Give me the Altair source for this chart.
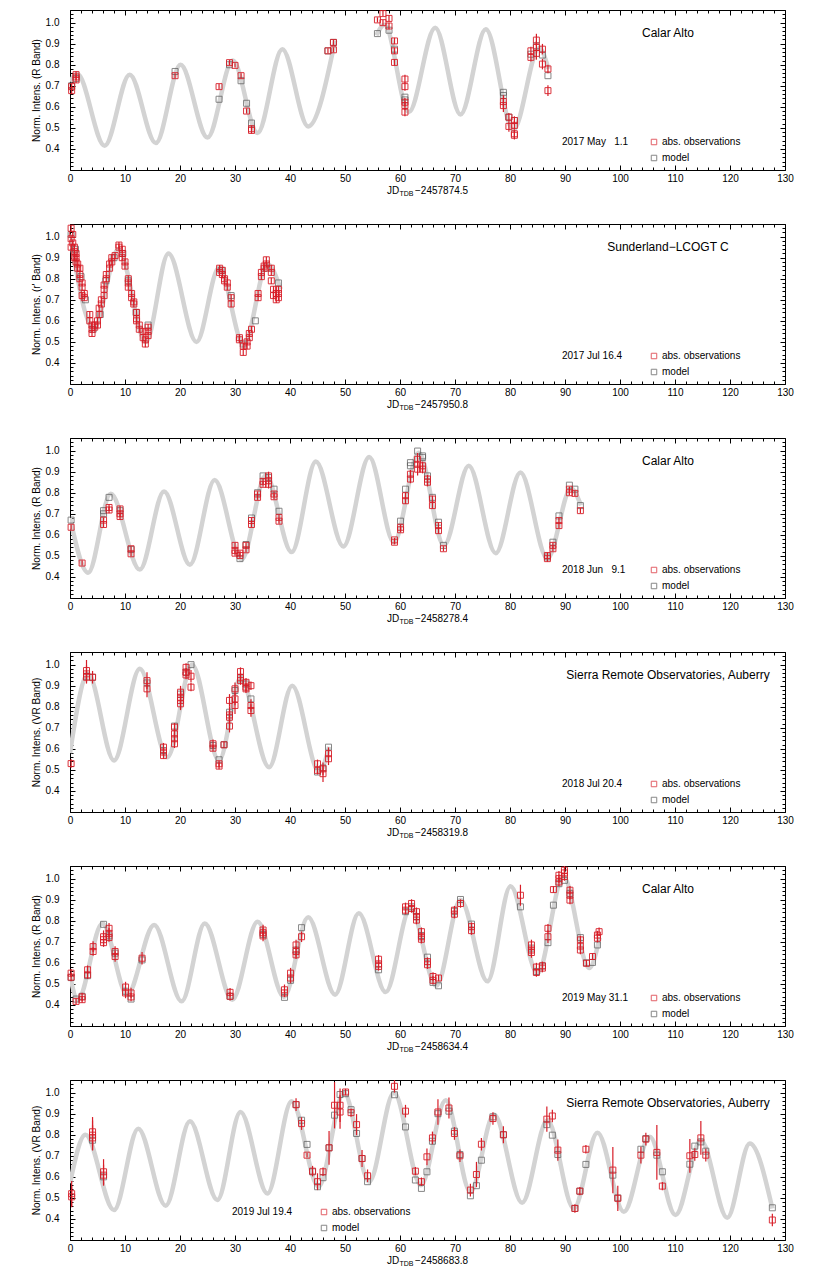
import altair as alt
import pandas as pd

FONT = "Liberation Sans"
RED = "#d81e28"
GRAY = "#555555"
CURVE_COLOR = "#d3d3d3"
W, H = 715, 160

# ---------------- panel meta ----------------
SITES = ["Calar Alto", "Sunderland\u2212LCOGT C", "Calar Alto",
         "Sierra Remote Observatories, Auberry", "Calar Alto",
         "Sierra Remote Observatories, Auberry"]
YTITLES = ["Norm. Intens. (R Band)", "Norm. Intens. (r' Band)", "Norm. Intens. (R Band)",
           "Norm. Intens. (VR Band)", "Norm. Intens. (R Band)", "Norm. Intens. (VR Band)"]
EPOCHS = ["2017 May \u20071.1", "2017 Jul 16.4", "2018 Jun \u20079.1",
          "2018 Jul 20.4", "2019 May 31.1", "2019 Jul 19.4"]
JD_OFFSETS = ["2457874.5", "2457950.8", "2458278.4", "2458319.8", "2458634.4", "2458683.8"]
LEGEND_LEFT = [False, False, False, False, False, True]

X_TICKS = list(range(0, 131, 2))
Y_TICKS = [round(0.30 + 0.02 * i, 2) for i in range(39)]

# ---------------- panel 1 (model curve has a gap between ~48 and ~56) ----------------
P1_CURVE_X = [0, 1.3, 6.3, 10.85, 15.6, 20.1, 25.0, 29.6, 34.1, 38.6, 43.3, 48.2,
              55.7, 57.2, 61.6, 66.4, 71.0, 75.6, 80.6, 85.3, 87.0]
P1_CURVE_Y = [0.72, 0.757, 0.415, 0.753, 0.428, 0.80, 0.454, 0.82, 0.476, 0.874, 0.507, 0.915,
              0.94, 0.99, 0.575, 0.976, 0.564, 0.969, 0.49, 0.88, 0.78]
P1_CURVE_SEG = [0] * 12 + [1] * 9
P1_OBS = [(0.3, 0.696, 0.015), (0.3, 0.677, 0.015), (1.1, 0.753, 0.015), (1.1, 0.728, 0.015),
          (1.1, 0.742, 0.015), (19.1, 0.748, 0.012), (27.1, 0.696, 0.012), (29.0, 0.81, 0.012),
          (30.0, 0.797, 0.01), (31.1, 0.748, 0.012), (32.1, 0.58, 0.012), (33.0, 0.496, 0.015),
          (33.0, 0.488, 0.015), (46.9, 0.866, 0.012), (47.9, 0.906, 0.012), (47.9, 0.871, 0.012),
          (55.9, 1.013, 0.012), (56.9, 1.043, 0.012), (56.9, 1.0, 0.012), (58.0, 1.02, 0.015),
          (58.0, 0.984, 0.015), (59.0, 0.913, 0.015), (59.0, 0.866, 0.015), (59.0, 0.811, 0.015),
          (60.9, 0.732, 0.02), (60.9, 0.696, 0.02), (60.9, 0.622, 0.02), (60.9, 0.606, 0.02),
          (60.9, 0.575, 0.02), (78.8, 0.625, 0.03), (78.8, 0.606, 0.03), (79.8, 0.551, 0.02),
          (79.8, 0.507, 0.025), (80.8, 0.535, 0.02), (80.8, 0.512, 0.02), (80.8, 0.472, 0.02),
          (80.8, 0.465, 0.02), (83.8, 0.866, 0.02), (83.8, 0.835, 0.02), (84.8, 0.917, 0.03),
          (84.8, 0.882, 0.03), (84.8, 0.854, 0.03), (85.9, 0.874, 0.025), (85.9, 0.803, 0.025),
          (86.9, 0.78, 0.02), (86.9, 0.677, 0.025)]
P1_MODEL = [(0.3, 0.70), (1.1, 0.735), (19.1, 0.768), (27.1, 0.636), (29.0, 0.80), (31.1, 0.724),
            (32.1, 0.617), (33.0, 0.523), (46.9, 0.866), (47.9, 0.906), (55.9, 0.948),
            (58.0, 0.964), (59.0, 0.874), (60.9, 0.646), (60.9, 0.633), (78.8, 0.669),
            (78.8, 0.654), (79.8, 0.551), (80.8, 0.535), (83.8, 0.85), (84.8, 0.89),
            (85.9, 0.846), (86.9, 0.748)]

# ---------------- panel 2 ----------------
P2_CURVE_X = [0, 4.3, 8.8, 13.8, 17.9, 23.0, 27.1, 31.6, 35.9, 38.3]
P2_CURVE_Y = [1.01, 0.565, 0.94, 0.50, 0.92, 0.50, 0.852, 0.485, 0.87, 0.75]
P2_OBS = [(x, y, 0.015) for x, y in [
    (0.2, 1.04), (0.2, 0.99), (0.2, 0.95), (0.5, 1.01), (0.5, 0.97), (0.8, 0.95), (0.8, 0.93),
    (0.8, 0.90), (1.1, 0.92), (1.1, 0.90), (1.1, 0.88), (1.4, 0.87), (1.4, 0.85), (1.8, 0.85),
    (1.8, 0.82), (1.8, 0.80), (2.2, 0.78), (2.2, 0.76), (2.2, 0.72), (2.6, 0.73), (2.6, 0.71),
    (3.6, 0.63), (3.6, 0.60), (4.0, 0.58), (4.0, 0.56), (4.0, 0.54), (4.5, 0.58), (4.5, 0.57),
    (5.0, 0.60), (5.0, 0.58), (5.3, 0.63), (5.3, 0.66), (5.7, 0.68), (5.7, 0.70), (6.2, 0.72),
    (6.2, 0.75), (6.2, 0.77), (6.6, 0.80), (6.6, 0.82), (7.2, 0.85), (7.2, 0.87), (7.6, 0.90),
    (7.6, 0.88), (8.2, 0.91), (8.9, 0.95), (8.9, 0.96), (9.5, 0.94), (9.5, 0.92), (9.5, 0.90),
    (10.0, 0.88), (10.0, 0.86), (10.6, 0.80), (10.6, 0.78), (10.6, 0.76), (11.2, 0.73),
    (11.2, 0.71), (11.6, 0.69), (11.6, 0.68), (12.1, 0.64), (12.1, 0.61), (12.1, 0.60),
    (12.6, 0.58), (12.6, 0.56), (13.3, 0.55), (13.3, 0.52), (13.7, 0.51), (13.7, 0.49),
    (14.2, 0.55), (14.2, 0.53), (14.2, 0.57), (27.2, 0.85), (27.2, 0.83), (27.7, 0.84),
    (27.7, 0.82), (28.1, 0.80), (28.1, 0.79), (28.6, 0.78), (28.6, 0.76), (29.3, 0.71),
    (29.3, 0.68), (30.8, 0.52), (30.8, 0.51), (31.5, 0.48), (31.5, 0.45), (32.2, 0.50),
    (32.2, 0.48), (32.6, 0.52), (32.6, 0.54), (33.0, 0.56), (34.2, 0.73), (34.2, 0.71),
    (34.8, 0.81), (34.8, 0.83), (35.3, 0.86), (35.3, 0.85), (35.7, 0.89), (35.7, 0.87),
    (36.6, 0.85), (36.6, 0.83), (36.6, 0.79), (37.0, 0.75), (37.0, 0.72), (37.5, 0.73),
    (37.5, 0.70), (37.9, 0.75), (37.9, 0.73), (37.9, 0.71)]]
P2_MODEL = [(0.2, 1.01), (1.0, 0.94), (2.0, 0.81), (2.8, 0.70), (4.2, 0.56), (5.5, 0.63),
            (6.5, 0.79), (8.0, 0.90), (9.6, 0.92), (10.6, 0.79), (12.0, 0.64), (14.2, 0.58),
            (27.5, 0.84), (29.3, 0.72), (31.5, 0.49), (33.7, 0.60), (35.7, 0.85), (37.9, 0.78)]

# ---------------- panel 3 ----------------
P3_CURVE_X = [0, 3.3, 7.4, 12.7, 17.1, 21.8, 26.3, 31.2, 35.6, 40.3, 44.7, 49.7, 54.4, 58.9,
              63.4, 68.0, 72.5, 77.4, 81.9, 86.8, 91.1, 92.9]
P3_CURVE_Y = [0.68, 0.42, 0.795, 0.435, 0.806, 0.458, 0.86, 0.482, 0.883, 0.518, 0.948, 0.545,
              0.97, 0.565, 0.99, 0.55, 0.928, 0.513, 0.896, 0.487, 0.82, 0.74]
P3_OBS = [(0.2, 0.636, 0.012), (2.2, 0.466, 0.012), (6.1, 0.67, 0.012), (6.1, 0.649, 0.012),
          (7.1, 0.73, 0.015), (7.1, 0.718, 0.015), (9.1, 0.723, 0.015), (9.1, 0.70, 0.015),
          (9.1, 0.687, 0.015), (11.1, 0.534, 0.012), (11.1, 0.51, 0.012), (30.0, 0.55, 0.012),
          (30.0, 0.526, 0.012), (30.0, 0.513, 0.012), (30.9, 0.513, 0.012), (30.9, 0.502, 0.012),
          (32.0, 0.55, 0.012), (32.0, 0.529, 0.012), (33.0, 0.668, 0.012), (33.0, 0.649, 0.012),
          (34.1, 0.794, 0.012), (34.1, 0.778, 0.012), (35.1, 0.854, 0.012), (35.1, 0.84, 0.012),
          (36.1, 0.88, 0.02), (36.1, 0.857, 0.02), (36.1, 0.84, 0.02), (37.1, 0.794, 0.012),
          (37.1, 0.781, 0.012), (38.0, 0.683, 0.012), (38.0, 0.665, 0.012), (59.0, 0.576, 0.01),
          (59.0, 0.565, 0.01), (60.1, 0.636, 0.012), (60.1, 0.624, 0.012), (61.0, 0.786, 0.015),
          (61.0, 0.762, 0.015), (61.9, 0.888, 0.02), (61.9, 0.865, 0.02), (63.2, 0.935, 0.03),
          (63.2, 0.959, 0.03), (63.2, 0.912, 0.03), (64.1, 0.928, 0.02), (64.1, 0.912, 0.02),
          (65.0, 0.865, 0.02), (65.0, 0.85, 0.02), (65.9, 0.77, 0.015), (65.9, 0.739, 0.015),
          (67.0, 0.644, 0.015), (67.0, 0.62, 0.015), (67.9, 0.534, 0.012), (86.8, 0.502, 0.015),
          (86.8, 0.487, 0.015), (87.8, 0.55, 0.012), (87.8, 0.534, 0.012), (88.9, 0.668, 0.012),
          (88.9, 0.644, 0.012), (90.8, 0.817, 0.012), (90.8, 0.80, 0.012), (91.8, 0.797, 0.012),
          (92.8, 0.715, 0.012)]
P3_MODEL = [(0.2, 0.67), (6.1, 0.715), (6.1, 0.70), (7.1, 0.778), (9.1, 0.715), (11.1, 0.53),
            (30.9, 0.487), (32.0, 0.554), (33.0, 0.68), (34.1, 0.80), (35.1, 0.88), (36.1, 0.872),
            (37.1, 0.817), (38.0, 0.712), (60.1, 0.665), (61.0, 0.817), (61.9, 0.928),
            (61.9, 0.943), (63.2, 0.998), (64.1, 0.967), (64.1, 0.975), (65.0, 0.88),
            (65.9, 0.778), (67.0, 0.66), (67.9, 0.55), (86.8, 0.495), (87.8, 0.565), (88.9, 0.69),
            (90.8, 0.836), (91.8, 0.817), (92.8, 0.739)]

# ---------------- panel 4 ----------------
P4_CURVE_X = [0, 3.3, 8.0, 12.7, 17.7, 22.2, 27.1, 31.0, 36.2, 40.4, 45.3, 47.1]
P4_CURVE_Y = [0.58, 0.955, 0.545, 0.98, 0.56, 1.0, 0.545, 0.935, 0.513, 0.90, 0.49, 0.61]
P4_OBS = [(0.2, 0.53, 0.02), (3.0, 0.972, 0.05), (3.0, 0.956, 0.04), (3.0, 0.94, 0.03),
          (4.1, 0.94, 0.03), (14.0, 0.924, 0.04), (14.0, 0.885, 0.04), (17.0, 0.608, 0.02),
          (17.0, 0.585, 0.02), (17.0, 0.568, 0.015), (19.0, 0.703, 0.02), (19.0, 0.671, 0.03),
          (19.0, 0.648, 0.03), (19.0, 0.624, 0.02), (20.1, 0.869, 0.03), (20.1, 0.845, 0.03),
          (20.1, 0.83, 0.04), (20.1, 0.814, 0.03), (21.1, 0.987, 0.02), (21.1, 0.964, 0.02),
          (21.1, 0.951, 0.02), (22.0, 0.945, 0.03), (22.0, 0.893, 0.02), (26.0, 0.624, 0.02),
          (26.0, 0.603, 0.015), (27.1, 0.529, 0.015), (27.1, 0.518, 0.015), (28.0, 0.619, 0.015),
          (29.0, 0.83, 0.03), (29.0, 0.761, 0.04), (29.0, 0.75, 0.03), (29.0, 0.708, 0.03),
          (30.0, 0.885, 0.03), (30.0, 0.837, 0.03), (30.0, 0.806, 0.04), (31.0, 0.967, 0.02),
          (31.0, 0.94, 0.02), (31.0, 0.924, 0.02), (32.0, 0.916, 0.02), (32.0, 0.893, 0.02),
          (32.0, 0.885, 0.02), (32.9, 0.90, 0.02), (32.9, 0.806, 0.03), (32.9, 0.782, 0.03),
          (45.0, 0.529, 0.02), (45.0, 0.498, 0.02), (46.0, 0.505, 0.03), (46.0, 0.482, 0.04),
          (47.0, 0.577, 0.03), (47.0, 0.553, 0.03)]
P4_MODEL = [(3.0, 0.945), (4.1, 0.94), (14.0, 0.913), (17.0, 0.592), (19.0, 0.708), (20.1, 0.86),
            (21.1, 0.964), (22.0, 1.0), (26.0, 0.616), (27.1, 0.548), (28.0, 0.62), (29.0, 0.774),
            (30.0, 0.877), (31.0, 0.932), (32.0, 0.908), (32.9, 0.837), (45.0, 0.49),
            (46.0, 0.509), (47.0, 0.608)]

# ---------------- panel 5 ----------------
P5_CURVE_X = [0, 1.4, 5.9, 10.4, 15.3, 20.3, 24.5, 29.5, 34.1, 38.9, 43.3, 48.2, 52.5, 57.4,
              61.9, 66.6, 71.0, 75.9, 80.1, 85.0, 89.7, 94.4, 96.3]
P5_CURVE_Y = [0.54, 0.425, 0.787, 0.449, 0.78, 0.417, 0.787, 0.425, 0.795, 0.438, 0.816, 0.449,
              0.835, 0.461, 0.86, 0.49, 0.90, 0.512, 0.964, 0.55, 1.01, 0.575, 0.72]
P5_OBS = [(0.2, 0.551, 0.02), (0.2, 0.532, 0.02), (1.1, 0.417, 0.015), (2.2, 0.438, 0.02),
          (2.2, 0.425, 0.015), (3.2, 0.567, 0.02), (3.2, 0.543, 0.02), (4.2, 0.677, 0.025),
          (4.2, 0.654, 0.02), (6.1, 0.724, 0.03), (6.1, 0.71, 0.03), (6.1, 0.696, 0.02),
          (7.1, 0.764, 0.025), (7.1, 0.74, 0.025), (7.1, 0.72, 0.02), (8.2, 0.654, 0.025),
          (8.2, 0.63, 0.025), (10.1, 0.485, 0.025), (10.1, 0.457, 0.025), (11.1, 0.457, 0.025),
          (11.1, 0.438, 0.02), (13.1, 0.622, 0.03), (29.1, 0.46, 0.02), (29.1, 0.441, 0.02),
          (35.1, 0.756, 0.025), (35.1, 0.743, 0.025), (35.1, 0.728, 0.025), (39.0, 0.472, 0.025),
          (39.0, 0.457, 0.02), (40.1, 0.551, 0.025), (40.1, 0.528, 0.025), (41.1, 0.685, 0.025),
          (41.1, 0.654, 0.025), (41.1, 0.638, 0.02), (42.1, 0.724, 0.025), (56.1, 0.617, 0.02),
          (56.1, 0.595, 0.02), (56.1, 0.583, 0.02), (61.0, 0.866, 0.02), (61.0, 0.85, 0.02),
          (62.1, 0.882, 0.02), (62.1, 0.858, 0.02), (63.0, 0.843, 0.02), (63.0, 0.819, 0.02),
          (63.0, 0.803, 0.02), (63.9, 0.748, 0.02), (63.9, 0.724, 0.02), (63.9, 0.712, 0.02),
          (65.0, 0.606, 0.02), (65.0, 0.591, 0.02), (66.0, 0.535, 0.02), (66.0, 0.517, 0.02),
          (67.0, 0.528, 0.015), (69.9, 0.85, 0.02), (69.9, 0.831, 0.02), (71.0, 0.882, 0.02),
          (73.0, 0.772, 0.02), (73.0, 0.753, 0.02), (81.9, 0.921, 0.05), (83.9, 0.685, 0.025),
          (83.9, 0.661, 0.025), (83.9, 0.649, 0.025), (84.8, 0.58, 0.02), (84.8, 0.554, 0.02),
          (85.9, 0.586, 0.02), (85.9, 0.575, 0.02), (86.9, 0.764, 0.02), (86.9, 0.724, 0.03),
          (87.9, 0.948, 0.015), (88.9, 1.016, 0.02), (88.9, 1.0, 0.02), (88.9, 0.984, 0.02),
          (89.9, 1.04, 0.02), (89.9, 1.027, 0.02), (89.9, 1.01, 0.02), (90.9, 0.945, 0.02),
          (90.9, 0.921, 0.02), (90.9, 0.898, 0.02), (92.8, 0.709, 0.02), (92.8, 0.68, 0.02),
          (92.8, 0.661, 0.02), (93.9, 0.598, 0.015), (95.0, 0.63, 0.015), (95.9, 0.732, 0.02),
          (95.9, 0.717, 0.02), (96.2, 0.748, 0.02)]
P5_MODEL = [(0.2, 0.53), (1.1, 0.428), (2.2, 0.441), (3.2, 0.539), (6.1, 0.783), (7.1, 0.728),
            (8.2, 0.646), (10.1, 0.465), (11.1, 0.428), (13.1, 0.614), (29.1, 0.441),
            (35.1, 0.735), (39.0, 0.436), (40.1, 0.517), (41.1, 0.661), (42.1, 0.767),
            (56.1, 0.567), (61.0, 0.843), (62.1, 0.866), (63.0, 0.82), (63.9, 0.73), (65.0, 0.627),
            (66.0, 0.507), (67.0, 0.491), (69.9, 0.845), (71.0, 0.901), (73.0, 0.784),
            (81.9, 0.866), (83.9, 0.67), (84.8, 0.559), (85.9, 0.585), (86.9, 0.696),
            (87.9, 0.874), (88.9, 0.976), (89.9, 0.992), (90.9, 0.93), (92.8, 0.72), (93.9, 0.6),
            (95.0, 0.602), (95.9, 0.685)]

# ---------------- panel 6 ----------------
P6_CURVE_X = [0, 2.8, 8.0, 12.4, 17.4, 21.8, 26.8, 31.0, 35.9, 40.3, 45.2, 49.8, 54.4, 58.9,
              63.8, 68.3, 72.8, 77.1, 82.2, 86.8, 91.6, 95.9, 100.7, 105.4, 110.1, 114.7, 119.5,
              123.6, 127.7]
P6_CURVE_Y = [0.57, 0.80, 0.442, 0.829, 0.463, 0.864, 0.49, 0.908, 0.521, 0.959, 0.553, 1.0,
              0.577, 1.0, 0.56, 0.964, 0.529, 0.896, 0.477, 0.869, 0.45, 0.81, 0.434, 0.79,
              0.419, 0.774, 0.406, 0.758, 0.45]
P6_OBS = [(0.3, 0.52, 0.06), (0.3, 0.505, 0.05), (4.1, 0.814, 0.07), (4.1, 0.798, 0.07),
          (4.1, 0.785, 0.06), (6.1, 0.624, 0.06), (6.1, 0.608, 0.05), (41.1, 0.943, 0.03),
          (42.1, 0.853, 0.03), (43.1, 0.703, 0.01), (44.1, 0.627, 0.025), (45.0, 0.577, 0.04),
          (46.0, 0.624, 0.02), (47.1, 0.738, 0.08), (48.1, 0.94, 0.11), (49.1, 0.94, 0.08),
          (49.1, 0.908, 0.08), (50.1, 1.003, 0.015), (51.1, 0.905, 0.02), (52.1, 0.848, 0.05),
          (53.1, 0.687, 0.04), (54.1, 0.605, 0.03), (59.0, 1.03, 0.03), (61.0, 0.912, 0.03),
          (62.8, 0.627, 0.02), (63.9, 0.577, 0.02), (64.9, 0.695, 0.04), (65.9, 0.785, 0.03),
          (66.9, 0.908, 0.06), (68.9, 0.927, 0.05), (69.9, 0.806, 0.03), (70.9, 0.70, 0.03),
          (72.8, 0.537, 0.03), (73.9, 0.611, 0.06), (74.8, 0.755, 0.03), (76.9, 0.877, 0.03),
          (78.8, 0.80, 0.04), (86.7, 0.874, 0.06), (87.7, 0.889, 0.03), (88.7, 0.727, 0.05),
          (91.8, 0.45, 0.02), (92.7, 0.532, 0.02), (93.8, 0.731, 0.02), (98.7, 0.632, 0.11),
          (99.6, 0.498, 0.06), (103.8, 0.703, 0.04), (104.7, 0.779, 0.03), (106.7, 0.716, 0.13),
          (107.7, 0.556, 0.02), (112.7, 0.70, 0.08), (113.6, 0.706, 0.03), (114.7, 0.785, 0.08),
          (115.6, 0.703, 0.03), (127.7, 0.395, 0.03)]
P6_MODEL = [(4.1, 0.774), (6.1, 0.60), (41.1, 0.943), (42.1, 0.869), (43.1, 0.754), (44.1, 0.624),
            (45.0, 0.553), (46.0, 0.596), (47.1, 0.738), (48.1, 0.893), (49.1, 0.991),
            (50.1, 0.995), (51.1, 0.919), (52.1, 0.806), (53.1, 0.687), (54.1, 0.577), (59.0, 0.99),
            (61.0, 0.837), (62.8, 0.585), (63.9, 0.545), (64.9, 0.624), (65.9, 0.769), (66.9, 0.90),
            (68.9, 0.912), (69.9, 0.817), (70.9, 0.706), (72.8, 0.51), (73.9, 0.558),
            (74.8, 0.679), (76.9, 0.885), (78.8, 0.80), (86.7, 0.848), (87.7, 0.798),
            (88.7, 0.706), (91.8, 0.45), (92.7, 0.532), (93.8, 0.659), (98.7, 0.608), (99.6, 0.5),
            (103.8, 0.731), (104.7, 0.782), (106.7, 0.703), (107.7, 0.624), (112.7, 0.66),
            (113.6, 0.746), (114.7, 0.766), (115.6, 0.722), (127.7, 0.453)]

PANELS = [
    (P1_OBS, P1_MODEL, P1_CURVE_X, P1_CURVE_Y, P1_CURVE_SEG),
    (P2_OBS, P2_MODEL, P2_CURVE_X, P2_CURVE_Y, None),
    (P3_OBS, P3_MODEL, P3_CURVE_X, P3_CURVE_Y, None),
    (P4_OBS, P4_MODEL, P4_CURVE_X, P4_CURVE_Y, None),
    (P5_OBS, P5_MODEL, P5_CURVE_X, P5_CURVE_Y, None),
    (P6_OBS, P6_MODEL, P6_CURVE_X, P6_CURVE_Y, None),
]

MAJOR_X = "datum.value % 10 === 0"
MAJOR_Y = "abs(datum.value * 10 - round(datum.value * 10)) < 0.001"
ONE = pd.DataFrame({"k": [0]})


def x_axis(orient, show_labels):
    kw = dict(orient=orient, values=X_TICKS, offset=-5, tickSize=5, domain=False, grid=False,
              tickColor="black", tickWidth=1,
              tickDash={"condition": {"test": MAJOR_X, "value": [5, 0]}, "value": [0, 2, 3, 5]},
              labels=show_labels, title=None)
    if show_labels:
        kw.update(format="d", labelExpr=f"{MAJOR_X} ? datum.label : ''", labelFont=FONT,
                  labelFontSize=10, labelColor="black", labelPadding=3, labelOverlap=False,
                  labelFlush=False)
    return alt.Axis(**kw)


def y_axis(orient, show_labels, title=None):
    kw = dict(orient=orient, values=Y_TICKS, offset=-5, tickSize=5, domain=False, grid=False,
              tickColor="black", tickWidth=1,
              tickDash={"condition": {"test": MAJOR_Y, "value": [5, 0]}, "value": [0, 2, 3, 5]},
              labels=show_labels, title=title)
    if show_labels:
        kw.update(format=".1f", labelExpr=f"({MAJOR_Y}) && datum.value > 0.35 ? datum.label : ''",
                  labelFont=FONT, labelFontSize=10, labelColor="black", labelPadding=11,
                  labelOverlap=False, labelFlush=False, titleFont=FONT, titleFontSize=10,
                  titleFontWeight="normal", titleColor="black", titlePadding=4)
    return alt.Axis(**kw)


def text(t, x, y, size=10, align="left"):
    return alt.Chart(ONE).mark_text(text=t, font=FONT, fontSize=size, align=align,
                                    baseline="middle", color="black").encode(
        x=alt.value(x), y=alt.value(y))


def legend_sym(color, x, y):
    return alt.Chart(ONE).mark_point(shape="square", filled=False, color=color, size=30,
                                     strokeWidth=1).encode(x=alt.value(x), y=alt.value(y))


def panel(i):
    obs, model, cx, cy, seg = PANELS[i]
    obs_df = pd.DataFrame(obs, columns=["x", "y", "e"])
    mod_df = pd.DataFrame(model, columns=["x", "y"])
    cur_df = pd.DataFrame({"x": cx, "y": cy, "seg": seg if seg else [0] * len(cx)})
    xs = alt.Scale(domain=[0, 130], nice=False, zero=False)
    ys = alt.Scale(domain=[0.3, 1.06], nice=False, zero=False)

    curve = alt.Chart(cur_df).mark_line(color=CURVE_COLOR, strokeWidth=4.5,
                                        interpolate="monotone", clip=True).encode(
        x=alt.X("x:Q", scale=xs, axis=x_axis("bottom", True)),
        y=alt.Y("y:Q", scale=ys, axis=y_axis("left", True, YTITLES[i])),
        detail="seg:N")
    mods = alt.Chart(mod_df).mark_point(shape="square", filled=False, color=GRAY, size=36,
                                        strokeWidth=1).encode(
        x=alt.X("x:Q", scale=xs, axis=x_axis("top", False)),
        y=alt.Y("y:Q", scale=ys, axis=y_axis("right", False)))
    errs = alt.Chart(obs_df).transform_calculate(
        lo="datum.y - datum.e", hi="datum.y + datum.e").mark_rule(
        color=RED, strokeWidth=1.2).encode(
        x=alt.X("x:Q", scale=xs, axis=None),
        y=alt.Y("lo:Q", scale=ys, axis=None), y2="hi:Q")
    pts = alt.Chart(obs_df).mark_point(shape="square", filled=False, color=RED, size=36,
                                       strokeWidth=1, opacity=0.9).encode(
        x=alt.X("x:Q", scale=xs, axis=None),
        y=alt.Y("y:Q", scale=ys, axis=None))

    if LEGEND_LEFT[i]:
        ex, lx = 162, 254
    else:
        ex, lx = 492, 584
    deco = [
        text(SITES[i], 598, 23, size=12, align="center"),
        text(EPOCHS[i], ex, 132),
        legend_sym(RED, lx, 132),
        text("abs. observations", lx + 8, 132),
        legend_sym(GRAY, lx, 148),
        text("model", lx + 8, 148),
        text("JD", 317, H + 21),
        text("TDB", 329.5, H + 23.5, size=7),
        text("\u2212" + JD_OFFSETS[i], 345, H + 21),
    ]
    return alt.layer(curve, mods, errs, pts, *deco).resolve_axis(
        x="independent", y="independent").properties(width=W, height=H)


chart = alt.vconcat(*[panel(i) for i in range(6)], spacing=54, bounds="flush").configure_view(
    stroke="black", strokeWidth=1).properties(
    padding={"left": 22, "top": -4, "right": 5, "bottom": 5})

chart.save("out.html", embed_options={"renderer": "svg", "actions": False})
